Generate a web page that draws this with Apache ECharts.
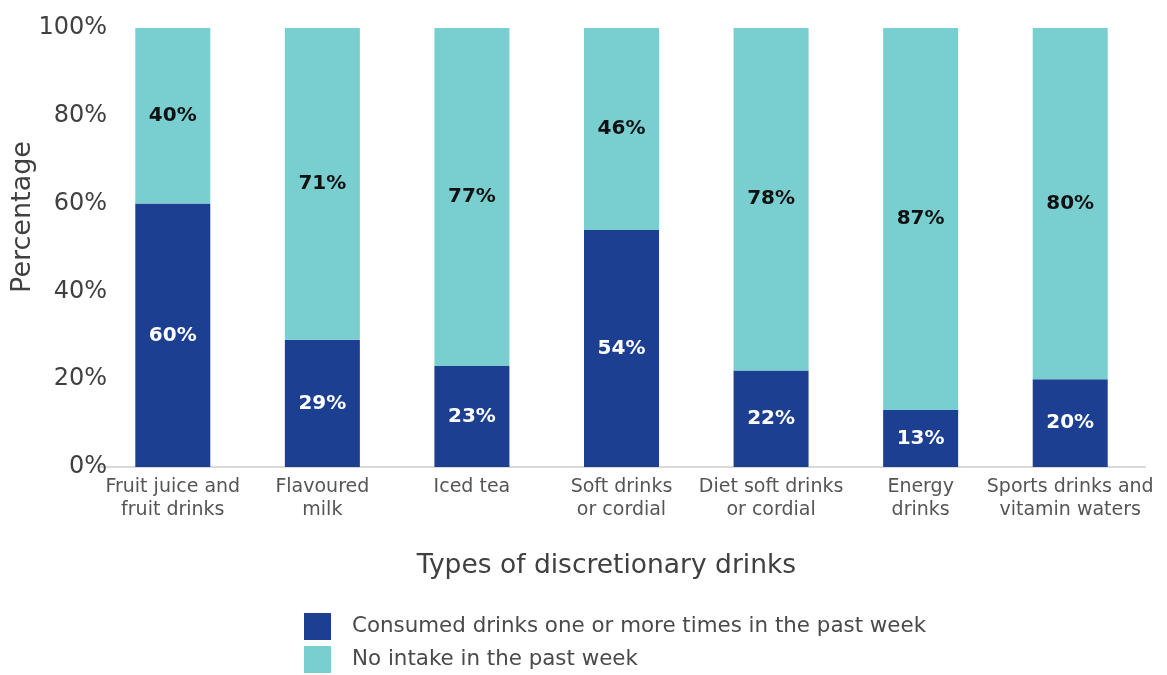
<!DOCTYPE html>
<html>
<head>
<meta charset="utf-8">
<script src="https://cdn.jsdelivr.net/npm/echarts@6/dist/echarts.min.js"></script>
<style>
  html, body { margin: 0; padding: 0; background: #fff; }
  #chart { width: 1167px; height: 675px; }
</style>
</head>
<body>
<div id="chart"></div>
<script>
const categories = [
  'Fruit juice and\nfruit drinks',
  'Flavoured\nmilk',
  'Iced tea',
  'Soft drinks\nor cordial',
  'Diet soft drinks\nor cordial',
  'Energy\ndrinks',
  'Sports drinks and\nvitamin waters'
];
const consumed = [60, 29, 23, 54, 22, 13, 20];
const noIntake = [40, 71, 77, 46, 78, 87, 80];
const seriesNames = ['Consumed drinks one or more times in the past week', 'No intake in the past week'];
const yTicks = [0, 20, 40, 60, 80, 100];
const yTitle = 'Percentage';

const FONT = '"DejaVu Sans", "Open Sans", sans-serif';
const chart = echarts.init(document.getElementById('chart'));

chart.setOption({
  animation: false,
  textStyle: { fontFamily: FONT },
  grid: { left: 98, right: 22, top: 28, bottom: 208, containLabel: false, outerBoundsMode: 'none' },
  // vertical y-axis title placed beside the value labels
  graphic: [{
    type: 'text',
    x: 23,
    y: 217,
    rotation: Math.PI / 2,
    style: {
      text: yTitle,
      fontFamily: FONT,
      fontSize: 27,
      fill: '#404040',
      align: 'center',
      verticalAlign: 'middle'
    }
  }],
  legend: {
    orient: 'vertical',
    left: 304,
    top: 613,
    padding: 0,
    itemWidth: 27,
    itemHeight: 27,
    itemGap: 6,
    icon: 'rect',
    textStyle: { fontFamily: FONT, fontSize: 21.4, color: '#4a4a4a', padding: [0, 0, 0, 16] },
    data: seriesNames
  },
  xAxis: {
    type: 'category',
    data: categories,
    name: 'Types of discretionary drinks',
    nameLocation: 'middle',
    nameGap: 86,
    nameTextStyle: { fontFamily: FONT, fontSize: 26.5, color: '#404040', padding: [0, 30, 0, 0] },
    axisLine: { lineStyle: { color: '#d9d9d9', width: 2 } },
    axisTick: { show: false },
    axisLabel: { fontFamily: FONT, fontSize: 19, color: '#555', lineHeight: 23, margin: 9, interval: 0 }
  },
  yAxis: {
    type: 'value',
    min: yTicks[0],
    max: yTicks[yTicks.length - 1],
    interval: 20,
    splitLine: { show: false },
    axisLine: { show: false },
    axisTick: { show: false },
    axisLabel: { fontFamily: FONT, fontSize: 24, color: '#404040', margin: -9, formatter: '{value}%' }
  },
  series: [
    {
      name: seriesNames[0],
      type: 'bar',
      stack: 'total',
      barWidth: 75,
      data: consumed,
      itemStyle: { color: '#1D3F92' },
      label: { show: true, position: 'inside', formatter: '{c}%', color: '#fff', fontWeight: 'bold', fontSize: 20, fontFamily: FONT }
    },
    {
      name: seriesNames[1],
      type: 'bar',
      stack: 'total',
      barWidth: 75,
      data: noIntake,
      itemStyle: { color: '#79CED0' },
      label: { show: true, position: 'inside', formatter: '{c}%', color: '#111', fontWeight: 'bold', fontSize: 20, fontFamily: FONT }
    }
  ]
});
</script>
</body>
</html>
